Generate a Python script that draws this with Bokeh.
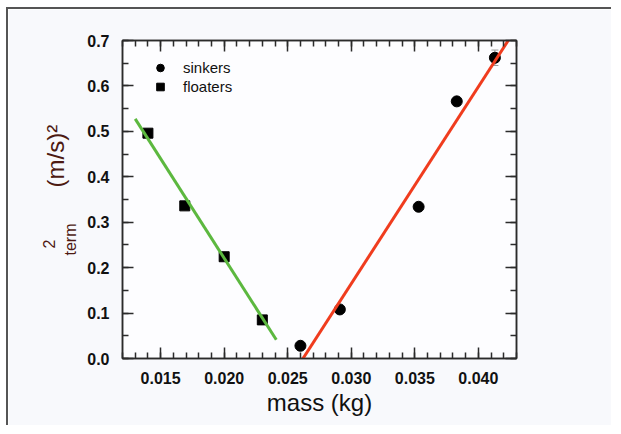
import math
from bokeh.plotting import figure
from bokeh.models import (ColumnDataSource, FixedTicker, NumeralTickFormatter, LinearAxis,
                          Legend, LegendItem, Range1d, Whisker, TeeHead)
from bokeh.embed import file_html
from bokeh.resources import INLINE

# ---- data ----
sinker_mass = [0.0260, 0.0291, 0.0353, 0.0383, 0.0413]
sinker_v2 = [0.028, 0.108, 0.334, 0.566, 0.662]
sinker_err_low = [None, None, None, None, 0.645]
sinker_err_high = [None, None, None, None, 0.679]

floater_mass = [0.0140, 0.0169, 0.0200, 0.0230]
floater_v2 = [0.496, 0.336, 0.224, 0.085]

floater_fit_mass = [0.0130, 0.0241]
floater_fit_v2 = [0.5275, 0.0412]
sinker_fit_mass = [0.0262, 0.04235]
sinker_fit_v2 = [0.0, 0.70]

x_major = [0.015, 0.020, 0.025, 0.030, 0.035, 0.040]
x_minor = [round(0.012 + 0.001 * i, 3) for i in range(32)]
y_major = [0.0, 0.1, 0.2, 0.3, 0.4, 0.5, 0.6, 0.7]
y_minor = [round(0.05 * i, 2) for i in range(15)]

x_title = "mass (kg)"
y_title_main = "(m/s)²"
y_title_sub = "term"
y_title_sup = "2"

FONT = "Liberation Sans"
AXIS_COLOR = "#2b2b2b"
LABEL_COLOR = "#4d1a12"
NBSP = "\u00a0"

p = figure(width=605, height=418, output_backend="svg", toolbar_location=None,
           x_range=Range1d(0.012, 0.043), y_range=Range1d(0.0, 0.7),
           min_border_left=114, min_border_right=97, min_border_top=31, min_border_bottom=69,
           background_fill_color="#fdfdff", border_fill_color="#f8f9fc",
           outline_line_color=AXIS_COLOR, outline_line_width=1.5)
p.styles = {"border-top": "2px solid #555555", "border-left": "2px solid #555555",
            "margin-left": "6px", "margin-top": "7px"}
p.xgrid.visible = False
p.ygrid.visible = False

xt = FixedTicker(ticks=x_major, minor_ticks=x_minor)
yt = FixedTicker(ticks=y_major, minor_ticks=y_minor)


def style_axis(ax):
    ax.axis_line_color = AXIS_COLOR
    ax.axis_line_width = 1.5
    ax.major_tick_line_color = AXIS_COLOR
    ax.minor_tick_line_color = AXIS_COLOR
    ax.major_tick_line_width = 1.5
    ax.minor_tick_line_width = 1.5
    ax.major_tick_in = 11
    ax.major_tick_out = 0
    ax.minor_tick_in = 6
    ax.minor_tick_out = 0
    ax.major_label_text_font = FONT
    ax.major_label_text_font_style = "bold"
    ax.major_label_text_color = "#111111"
    ax.major_label_text_font_size = "16px"
    ax.major_label_standoff = 13


p.xaxis.ticker = xt
p.yaxis.ticker = yt
p.xaxis.formatter = NumeralTickFormatter(format="0.000")
p.yaxis.formatter = NumeralTickFormatter(format="0.0")
style_axis(p.xaxis[0])
style_axis(p.yaxis[0])

p.xaxis.axis_label = x_title
p.xaxis.axis_label_text_font = FONT
p.xaxis.axis_label_text_font_style = "normal"
p.xaxis.axis_label_text_font_size = "24px"
p.xaxis.axis_label_text_color = "#111111"
p.xaxis.axis_label_standoff = 2

top_ax = LinearAxis(ticker=FixedTicker(ticks=x_major, minor_ticks=x_minor),
                    major_label_overrides={t: "" for t in x_major})
right_ax = LinearAxis(ticker=FixedTicker(ticks=y_major, minor_ticks=y_minor),
                      major_label_overrides={t: "" for t in y_major})
style_axis(top_ax)
style_axis(right_ax)
p.add_layout(top_ax, "above")
p.add_layout(right_ax, "right")


# y-axis title pieces: label-only axes on the left; non-breaking-space padding
# moves each piece along the axis (text is centred on the frame)
def title_axis(text, size, standoff):
    ax = LinearAxis(ticker=FixedTicker(ticks=[], minor_ticks=[]),
                    axis_line_alpha=0, major_tick_out=0, major_tick_in=0,
                    minor_tick_out=0, minor_tick_in=0, major_label_standoff=0,
                    axis_label=text, axis_label_text_font=FONT,
                    axis_label_text_font_style="normal", axis_label_text_font_size=size,
                    axis_label_text_color=LABEL_COLOR, axis_label_standoff=standoff)
    p.add_layout(ax, "left")


title_axis(y_title_sub + NBSP * 18, "16px", 6)
title_axis(NBSP * 13 + y_title_main, "24px", -10)
title_axis(y_title_sup + NBSP * 20, "16px", -19)

# error bar on last sinker
err_src = ColumnDataSource(dict(x=sinker_mass[-1:], lo=sinker_err_low[-1:], hi=sinker_err_high[-1:]))
p.add_layout(Whisker(source=err_src, base="x", lower="lo", upper="hi",
                     line_color="#9a9a9a", line_width=1,
                     upper_head=TeeHead(size=7, line_color="#9a9a9a", line_width=1),
                     lower_head=TeeHead(size=7, line_color="#9a9a9a", line_width=1)))

sinkers = p.scatter(sinker_mass, sinker_v2, marker="circle", size=11,
                    fill_color="black", line_color="black")
floaters = p.scatter(floater_mass, floater_v2, marker="square", size=10,
                     fill_color="black", line_color="black")

p.line(floater_fit_mass, floater_fit_v2, line_color="#5cb83f", line_width=3)
p.line(sinker_fit_mass, sinker_fit_v2, line_color="#f03c1e", line_width=3)

legend = Legend(items=[LegendItem(label="sinkers", renderers=[sinkers]),
                       LegendItem(label="floaters", renderers=[floaters])],
                location=(28, 262), orientation="vertical",
                label_text_font=FONT, label_text_font_size="15px", label_text_color="#111111",
                glyph_width=20, glyph_height=19, spacing=0, padding=0, margin=0,
                label_standoff=13, label_height=19,
                background_fill_alpha=0, border_line_alpha=0)
p.add_layout(legend, "center")

open("out.html", "w").write(file_html(p, INLINE))
